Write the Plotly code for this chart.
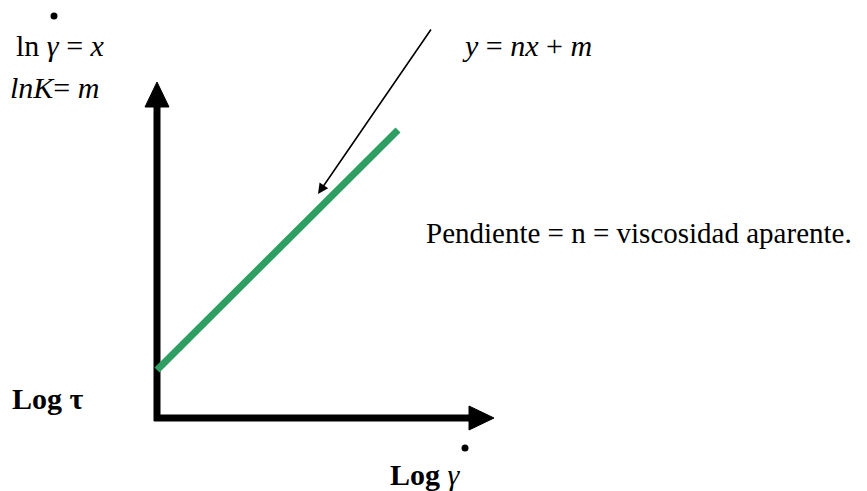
import plotly.graph_objects as go

# Diagram geometry in a canvas coordinate system (units ~ window pixels, y downward)
origin = [157, 418]
y_axis_tip = [157, 82]
x_axis_tip = [494, 418]
fit_line_x = [157, 398]
fit_line_y = [370, 130]
pointer_tail = [432, 28]
pointer_tip = [318, 194]

labels = {
    "eq_x": "ln <i>γ</i> = <i>x</i>",
    "eq_m": "<i>lnK</i>= <i>m</i>",
    "eq_line": "<i>y</i> = <i>nx</i> + <i>m</i>",
    "slope": "Pendiente = n = viscosidad aparente.",
    "ylab": "<b>Log τ</b>",
    "xlab": "<b>Log</b> <i>γ</i>",
}

font = "Liberation Serif, Times New Roman, serif"
fig = go.Figure()

# axes lines
fig.add_trace(go.Scatter(x=[origin[0], origin[0]], y=[origin[1] + 3, y_axis_tip[1] + 22],
                         mode="lines", line=dict(color="black", width=7), hoverinfo="skip"))
fig.add_trace(go.Scatter(x=[origin[0] - 3, x_axis_tip[0] - 22], y=[origin[1], origin[1]],
                         mode="lines", line=dict(color="black", width=7), hoverinfo="skip"))
# arrowheads
fig.add_trace(go.Scatter(x=[y_axis_tip[0] - 12, y_axis_tip[0], y_axis_tip[0] + 12, y_axis_tip[0] - 12],
                         y=[y_axis_tip[1] + 25, y_axis_tip[1], y_axis_tip[1] + 25, y_axis_tip[1] + 25],
                         mode="lines", fill="toself", fillcolor="black", line=dict(color="black", width=1),
                         hoverinfo="skip"))
fig.add_trace(go.Scatter(x=[x_axis_tip[0] - 25, x_axis_tip[0], x_axis_tip[0] - 25, x_axis_tip[0] - 25],
                         y=[x_axis_tip[1] - 12, x_axis_tip[1], x_axis_tip[1] + 12, x_axis_tip[1] - 12],
                         mode="lines", fill="toself", fillcolor="black", line=dict(color="black", width=1),
                         hoverinfo="skip"))
# green fitted line
fig.add_trace(go.Scatter(x=fit_line_x, y=fit_line_y, mode="lines",
                         line=dict(color="#2E9E62", width=7), hoverinfo="skip"))

# pointer arrow
fig.add_annotation(x=pointer_tip[0], y=pointer_tip[1], ax=pointer_tail[0], ay=pointer_tail[1],
                   xref="x", yref="y", axref="x", ayref="y", text="", showarrow=True,
                   arrowhead=2, arrowsize=1.3, arrowwidth=1.6, arrowcolor="black")

def txt(x, y, s, size=30, anchor="left"):
    fig.add_annotation(x=x, y=y, xref="x", yref="y", text=s, showarrow=False,
                       xanchor=anchor, yanchor="middle", font=dict(family=font, size=size, color="black"))

def dot(x, y):
    fig.add_trace(go.Scatter(x=[x], y=[y], mode="markers",
                             marker=dict(color="black", size=7), hoverinfo="skip"))

txt(14, 45, labels["eq_x"])
dot(54, 16)
txt(8, 87, labels["eq_m"])
txt(460, 45, labels["eq_line"])
txt(424, 233, labels["slope"], size=29)
txt(10, 398, labels["ylab"])
txt(388, 474, labels["xlab"])
dot(465, 448)

fig.update_layout(
    width=867, height=491, margin=dict(l=0, r=0, t=0, b=0),
    paper_bgcolor="white", plot_bgcolor="white", showlegend=False,
    xaxis=dict(range=[8, 875], visible=False, fixedrange=True),
    yaxis=dict(range=[499, 8], visible=False, fixedrange=True),
)
fig.write_html("out.html")
